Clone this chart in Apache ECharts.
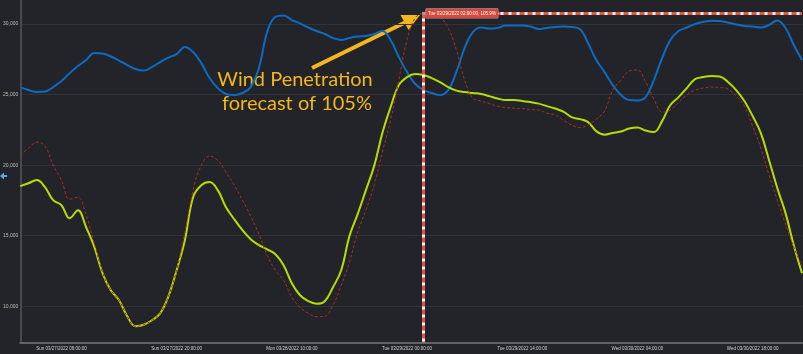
<!DOCTYPE html>
<html>
<head>
<meta charset="utf-8">
<script src="https://cdn.jsdelivr.net/npm/echarts@6/dist/echarts.min.js"></script>
<style>
  html, body { margin: 0; padding: 0; background: #232429; }
  #chart { width: 803px; height: 354px; }
</style>
</head>
<body>
<div id="chart"></div>
<script>
// hourly samples, Sun 03/27/2022 01:00 .. Thu 03/31/2022 00:00
const dayNames = ['Sun', 'Mon', 'Tue', 'Wed', 'Thu']
const pad = n => (n < 10 ? '0' : '') + n
const hours = []
for (let i = 0; i < 96; i++) {
  const t = i + 1
  const d = Math.floor(t / 24)
  hours.push(dayNames[d] + ' 03/' + pad(27 + d) + '/2022 ' + pad(t % 24) + ':00:00')
}

// wind forecast (blue)
const windForecast = [
  25510, 25320, 25180, 25210, 25530, 25960, 26520, 27020, 27450, 27940,
  27910, 27700, 27410, 27090, 26810, 26700, 26950, 27300, 27620, 27870,
  28370, 28010, 27230, 26170, 25460, 25040, 24970, 25110, 25530, 26880,
  29430, 30500, 30600, 30280, 30040, 29750, 29500, 29290, 29010, 28870,
  29010, 29110, 29150, 29290, 29500, 28870, 27660, 26600, 25750, 25320,
  25110, 24970, 25320, 26600, 28300, 29430, 29750, 29680, 29720, 29890,
  29890, 29890, 29820, 29650, 29720, 29790, 29820, 29790, 29650, 28650,
  27450, 26600, 25670, 24970, 24610, 24580, 24820, 26030, 27590, 28870,
  29500, 29750, 30000, 30140, 30230, 30210, 30110, 29960, 29860, 29820,
  29750, 29930, 30250, 29720, 28510, 27450
]
// load forecast (green)
const loadForecast = [
  18510, 18720, 18940, 18440, 17520, 17160, 16240, 16810, 15600, 14190,
  12340, 11140, 10430, 9290, 8580, 8690, 9010, 9500, 10710, 12550,
  14680, 17730, 18580, 18800, 18230, 17020, 16170, 15390, 14750, 14330,
  14040, 13690, 12910, 11630, 10780, 10360, 10180, 10360, 11350, 12550,
  14970, 16530, 18230, 19930, 22270, 24110, 25670, 26240, 26450, 26380,
  26170, 25890, 25530, 25280, 25180, 25110, 25040, 24890, 24720, 24610,
  24610, 24540, 24470, 24360, 24180, 24010, 23790, 23400, 23260, 23050,
  22410, 22160, 22270, 22380, 22590, 22660, 22450, 22340, 23120, 24260,
  24820, 25460, 26100, 26240, 26310, 26280, 25890, 25320, 24540, 23480,
  22270, 20350, 18370, 16600, 14330, 12340
]
// wind penetration (red dashed)
const penetration = [
  20710, 21210, 21630, 21350, 20000, 18940, 17590, 17730, 16450, 14470,
  12410, 11140, 10430, 9290, 8580, 8690, 9010, 9500, 10710, 12550,
  15250, 18230, 20000, 20640, 20350, 19500, 18580, 17520, 16380, 15110,
  13620, 12550, 11840, 10640, 9930, 9500, 9260, 9290, 10070, 11490,
  13120, 15250, 16810, 18580, 20920, 23190, 26030, 28870, 30430, 30750,
  30710, 30500, 29720, 28160, 26030, 24750, 24540, 24360, 24180, 24080,
  24040, 24010, 23940, 23900, 23690, 23550, 23190, 22840, 22660, 22840,
  23260, 23830, 25320, 26030, 26670, 26740, 25890, 24680, 23760, 23900,
  24470, 24970, 25320, 25460, 25530, 25500, 25390, 24890, 24180, 22770,
  21210, 19290, 17520, 15820, 14190, 12840
]

const cursorIdx = 49
const cursorLabel = 'Tue 03/29/2022 02:00:00, 105.9%'
const yMin = 7400
const yMax = 31700

const fmt = v => String(v).replace(/\B(?=(\d{3})+(?!\d))/g, ',')

const chart = echarts.init(document.getElementById('chart'))
const cursorVal = penetration[cursorIdx]

chart.setOption({
  backgroundColor: '#232429',
  animation: false,
  grid: { left: 16, right: 1, top: 0, bottom: 11 },
  xAxis: {
    type: 'category',
    data: hours,
    boundaryGap: false,
    axisLine: { lineStyle: { color: '#626367', width: 2 } },
    axisTick: { show: false },
    axisLabel: {
      interval: i => i >= 5 && (i - 5) % 14 === 0,
      fontSize: 4.5,
      color: '#cfcfcf',
      margin: 3,
      fontFamily: 'Liberation Sans'
    },
    splitLine: { show: false }
  },
  yAxis: {
    type: 'value',
    min: yMin,
    max: yMax,
    splitNumber: 5,
    axisLine: { show: true, lineStyle: { color: '#55565a', width: 1.5 } },
    axisTick: { show: false },
    axisLabel: {
      fontSize: 5,
      color: '#bdbdbd',
      margin: 2,
      fontFamily: 'Liberation Sans',
      formatter: v => (v % 5000 === 0 ? fmt(v) : '')
    },
    splitLine: { showMinLine: false, showMaxLine: false, lineStyle: { color: '#323337', width: 1 } }
  },
  series: [
    {
      name: 'Wind',
      type: 'line',
      data: windForecast,
      smooth: 0.4,
      showSymbol: false,
      lineStyle: { color: '#0d6bc3', width: 2 }
    },
    {
      name: 'Load',
      type: 'line',
      data: loadForecast,
      smooth: 0.4,
      showSymbol: false,
      lineStyle: { color: '#b7dd00', width: 2 }
    },
    {
      name: 'Penetration',
      type: 'line',
      data: penetration,
      smooth: 0.4,
      showSymbol: false,
      lineStyle: { color: '#a5311f', width: 1, type: [3, 2] },
      markLine: {
        silent: true,
        symbol: ['none', 'none'],
        label: { show: false },
        data: [
          [{ coord: [cursorIdx, cursorVal], lineStyle: { color: '#f2f2f2', width: 3, type: 'solid' } },
           { coord: [cursorIdx, yMin] }],
          [{ coord: [cursorIdx, cursorVal], lineStyle: { color: '#e0513f', width: 3, type: [5, 3] } },
           { coord: [cursorIdx, yMin] }],
          [{ coord: [cursorIdx, cursorVal], lineStyle: { color: '#f2f2f2', width: 3, type: 'solid' } },
           { coord: [hours.length - 1, cursorVal] }],
          [{ coord: [cursorIdx, cursorVal], lineStyle: { color: '#e0513f', width: 3, type: [5, 3] } },
           { coord: [hours.length - 1, cursorVal] }]
        ]
      },
      markPoint: {
        silent: true,
        symbol: 'rect',
        symbolSize: 3,
        itemStyle: { color: '#9a9a9a' },
        data: [{
          coord: [cursorIdx, cursorVal],
          label: {
            show: true,
            position: 'right',
            distance: 1,
            formatter: cursorLabel,
            fontSize: 4.5,
            fontFamily: 'Liberation Sans',
            color: '#ffffff',
            backgroundColor: '#d8473a',
            borderColor: '#bdbdbd',
            borderWidth: 0.5,
            padding: [2, 2]
          }
        }]
      }
    }
  ],
  graphic: [
    {
      type: 'line',
      shape: { x1: 312, y1: 68, x2: 405, y2: 22.5 },
      style: { stroke: '#f2b71f', lineWidth: 4 }
    },
    {
      type: 'polygon',
      shape: { points: [[420, 15], [408.5, 30], [400.5, 15]] },
      style: { fill: '#f2b71f' }
    },
    {
      type: 'text',
      x: 295, y: 80,
      style: {
        text: 'Wind Penetration',
        fill: '#f2b71f',
        font: '20px Lato',
        textAlign: 'center',
        textVerticalAlign: 'middle'
      }
    },
    {
      type: 'text',
      x: 297, y: 104,
      style: {
        text: 'forecast of 105%',
        fill: '#f2b71f',
        font: '20px Lato',
        textAlign: 'center',
        textVerticalAlign: 'middle'
      }
    },
    {
      type: 'polygon',
      shape: { points: [[0, 176], [4, 172.5], [4, 175], [7, 175], [7, 177], [4, 177], [4, 179.5]] },
      style: { fill: '#5aa9dc' }
    }
  ]
})
</script>
</body>
</html>
